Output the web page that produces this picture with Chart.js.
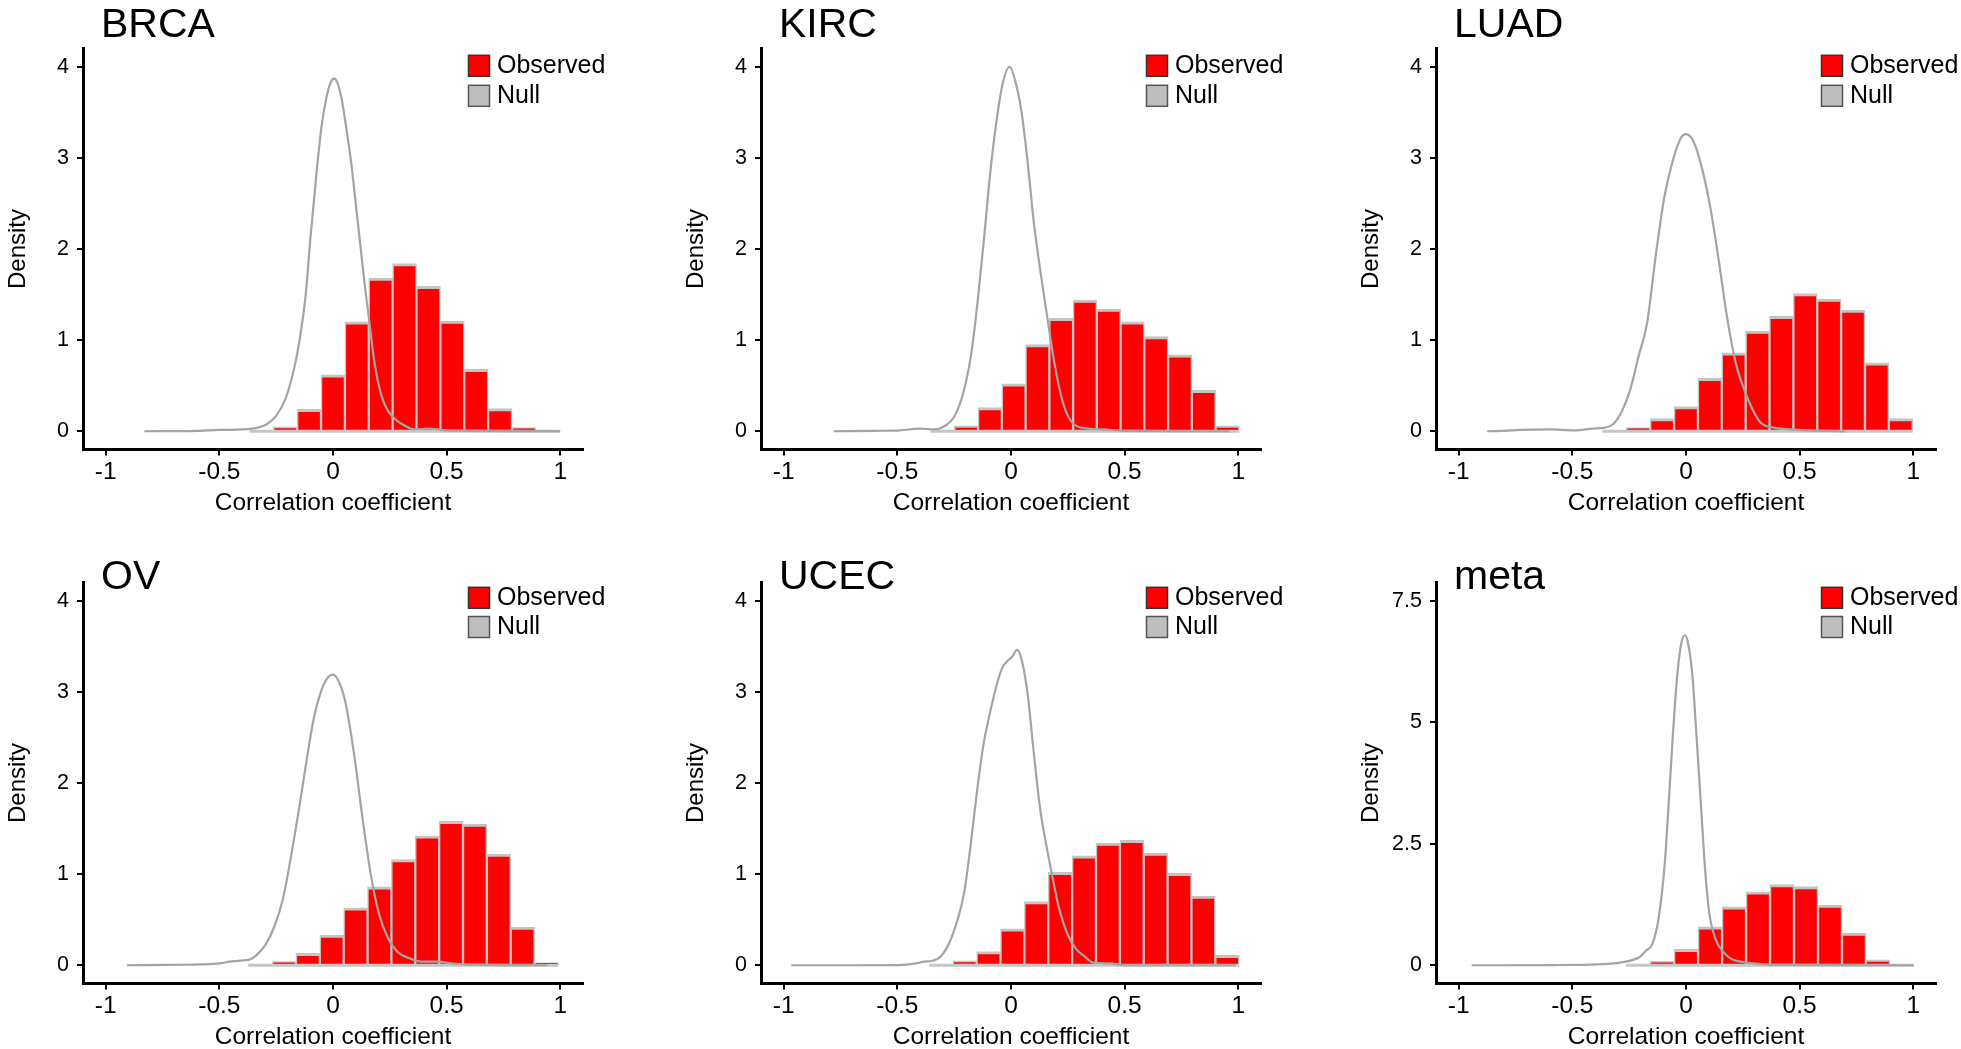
<!DOCTYPE html>
<html>
<head>
<meta charset="utf-8">
<script src="https://cdn.jsdelivr.net/npm/chart.js@4.4.0/dist/chart.umd.min.js"></script>
<style>
html, body { margin: 0; padding: 0; background: #ffffff; overflow: hidden; width: 1961px; height: 1049px; }
canvas { position: absolute; }
</style>
</head>
<body>
<canvas id="p0" width="620" height="520"></canvas>
<canvas id="p1" width="620" height="520"></canvas>
<canvas id="p2" width="620" height="520"></canvas>
<canvas id="p3" width="620" height="520"></canvas>
<canvas id="p4" width="620" height="520"></canvas>
<canvas id="p5" width="620" height="520"></canvas>
<script>
// ---------------- DATA ----------------
const panelNames = ['BRCA', 'KIRC', 'LUAD', 'OV', 'UCEC', 'meta'];
const legendLabels = ['Observed', 'Null'];
const xAxisTitle = 'Correlation coefficient';
const yAxisTitle = 'Density';

const xTickValues = [-1, -0.5, 0, 0.5, 1];
const xTickLabels = ['-1', '-0.5', '0', '0.5', '1'];
const yTickValues4 = [0, 1, 2, 3, 4];
const yTickLabels4 = ['0', '1', '2', '3', '4'];
const yTickValuesMeta = [0, 2.5, 5, 7.5];
const yTickLabelsMeta = ['0', '2.5', '5', '7.5'];

// BRCA
const brcaBinCenters = [-0.315, -0.21, -0.105, 0, 0.105, 0.21, 0.315, 0.42, 0.525, 0.63, 0.735, 0.84, 0.945];
const brcaObserved   = [0, 0.05, 0.24, 0.62, 1.20, 1.68, 1.84, 1.59, 1.21, 0.68, 0.25, 0.04, 0];
const brcaNullX = [-0.83, -0.6, -0.5, -0.4, -0.33, -0.29, -0.25, -0.21, -0.17, -0.144, -0.12, -0.1, -0.07, -0.05, -0.03, -0.01, 0.005, 0.02, 0.04, 0.06, 0.08, 0.1, 0.12, 0.14, 0.16, 0.18, 0.2, 0.23, 0.27, 0.31, 0.36, 0.42, 0.5, 0.6, 1.0];
const brcaNullY = [0, 0.005, 0.015, 0.02, 0.04, 0.08, 0.17, 0.35, 0.7, 1.05, 1.5, 2.1, 2.9, 3.35, 3.65, 3.83, 3.87, 3.82, 3.62, 3.3, 2.95, 2.5, 2.05, 1.6, 1.2, 0.8, 0.52, 0.28, 0.14, 0.07, 0.02, 0.03, 0.01, 0.005, 0];

// KIRC
const kircBinCenters = [-0.3015, -0.197, -0.0925, 0.012, 0.1165, 0.221, 0.3255, 0.43, 0.5345, 0.639, 0.7435, 0.848, 0.9525];
const kircObserved   = [0, 0.06, 0.26, 0.52, 0.95, 1.24, 1.44, 1.34, 1.20, 1.04, 0.84, 0.45, 0.06];
const kircNullX = [-0.78, -0.6, -0.49, -0.4, -0.34, -0.29, -0.25, -0.21, -0.175, -0.147, -0.12, -0.092, -0.064, -0.037, -0.006, 0.018, 0.046, 0.073, 0.1, 0.128, 0.156, 0.193, 0.229, 0.275, 0.34, 0.41, 0.5, 0.96];
const kircNullY = [0, 0.005, 0.01, 0.03, 0.02, 0.06, 0.16, 0.42, 0.85, 1.42, 2.08, 2.82, 3.40, 3.81, 4.0, 3.85, 3.51, 2.96, 2.30, 1.78, 1.31, 0.72, 0.31, 0.08, 0.03, 0.02, 0.005, 0];

// LUAD
const luadBinCenters = [-0.315, -0.21, -0.105, 0, 0.105, 0.21, 0.315, 0.42, 0.525, 0.63, 0.735, 0.84, 0.945];
const luadObserved   = [0, 0.04, 0.14, 0.27, 0.58, 0.86, 1.10, 1.26, 1.51, 1.45, 1.33, 0.75, 0.14];
const luadNullX = [-0.875, -0.6, -0.49, -0.41, -0.356, -0.32, -0.282, -0.245, -0.208, -0.171, -0.133, -0.096, -0.059, -0.022, 0, 0.033, 0.07, 0.108, 0.145, 0.182, 0.219, 0.256, 0.293, 0.33, 0.386, 0.46, 0.534, 0.7];
const luadNullY = [0, 0.02, 0.01, 0.03, 0.04, 0.08, 0.22, 0.46, 0.83, 1.19, 1.93, 2.56, 2.96, 3.22, 3.26, 3.18, 2.89, 2.44, 1.86, 1.23, 0.75, 0.46, 0.24, 0.09, 0.04, 0.02, 0.01, 0];

// OV
const ovBinCenters = [-0.3205, -0.2155, -0.1105, -0.0055, 0.0995, 0.2045, 0.3095, 0.4145, 0.5195, 0.6245, 0.7295, 0.8345, 0.9395];
const ovObserved   = [0, 0.04, 0.13, 0.33, 0.63, 0.86, 1.16, 1.42, 1.58, 1.55, 1.22, 0.42, 0.03];
const ovNullX = [-0.906, -0.72, -0.573, -0.5, -0.453, -0.407, -0.36, -0.333, -0.296, -0.259, -0.222, -0.185, -0.148, -0.111, -0.083, -0.055, -0.028, 0, 0.028, 0.055, 0.092, 0.129, 0.166, 0.203, 0.24, 0.287, 0.333, 0.388, 0.462, 0.518, 0.573, 0.943];
const ovNullY = [0, 0.005, 0.01, 0.02, 0.04, 0.05, 0.07, 0.12, 0.23, 0.42, 0.71, 1.19, 1.74, 2.33, 2.73, 2.99, 3.14, 3.19, 3.10, 2.88, 2.33, 1.63, 1.00, 0.56, 0.31, 0.14, 0.08, 0.04, 0.04, 0.02, 0.01, 0];

// UCEC
const ucecBinCenters = [-0.3085, -0.2035, -0.0985, 0.0065, 0.1115, 0.2165, 0.3215, 0.4265, 0.5315, 0.6365, 0.7415, 0.8465, 0.9515];
const ucecObserved   = [0, 0.05, 0.15, 0.40, 0.70, 1.02, 1.20, 1.34, 1.37, 1.23, 1.01, 0.76, 0.11];
const ucecNullX = [-0.967, -0.7, -0.494, -0.42, -0.382, -0.345, -0.308, -0.271, -0.234, -0.206, -0.178, -0.15, -0.122, -0.095, -0.067, -0.039, -0.011, 0.007, 0.026, 0.045, 0.072, 0.1, 0.128, 0.156, 0.184, 0.212, 0.249, 0.286, 0.323, 0.36, 0.434, 0.508, 0.99];
const ucecNullY = [0, 0, 0.002, 0.02, 0.04, 0.05, 0.10, 0.25, 0.51, 0.80, 1.31, 1.90, 2.41, 2.74, 3.04, 3.26, 3.35, 3.39, 3.46, 3.37, 3.00, 2.34, 1.72, 1.31, 0.95, 0.62, 0.34, 0.18, 0.10, 0.03, 0.02, 0, 0];

// meta
const metaBinCenters = [-0.2105, -0.105, 0.0005, 0.106, 0.2115, 0.317, 0.4225, 0.528, 0.6335, 0.739, 0.8445, 0.95];
const metaObserved   = [0, 0.08, 0.33, 0.79, 1.20, 1.51, 1.66, 1.62, 1.24, 0.66, 0.11, 0];
const metaNullX = [-0.943, -0.576, -0.39, -0.316, -0.26, -0.204, -0.176, -0.149, -0.121, -0.093, -0.074, -0.056, -0.037, -0.019, -0.004, 0.009, 0.028, 0.046, 0.065, 0.084, 0.102, 0.13, 0.167, 0.204, 0.26, 0.316, 0.39, 1.0];
const metaNullY = [0, 0.005, 0.02, 0.04, 0.08, 0.17, 0.30, 0.43, 0.95, 2.12, 3.50, 4.87, 6.04, 6.66, 6.79, 6.63, 5.97, 4.73, 3.36, 1.98, 1.09, 0.54, 0.26, 0.12, 0.06, 0.03, 0.01, 0];

// ---------------- LAYOUT / STYLE ----------------
const FONT = '"Liberation Sans", Arial, Helvetica, sans-serif';
Chart.defaults.font.family = FONT;
Chart.defaults.color = '#000000';

const PANEL_W = 500, PANEL_H = 401;
const Y_AXIS_W = 80, X_AXIS_H = 70;
const CANVAS_W = 620, CANVAS_H = 520;
const colLeft = [83, 761, 1436];
const rowTop = [48.5, 582];
const titleBaseline = [36.7, 54.8];
const legendRowsY = [[65.8, 95.8], [63.8, 93.0]];

const panels = [
  { centers: brcaBinCenters, observed: brcaObserved, nx: brcaNullX, ny: brcaNullY, yt: yTickValues4, yl: yTickLabels4, ymin: -0.2, ymax: 4.2 },
  { centers: kircBinCenters, observed: kircObserved, nx: kircNullX, ny: kircNullY, yt: yTickValues4, yl: yTickLabels4, ymin: -0.2, ymax: 4.2 },
  { centers: luadBinCenters, observed: luadObserved, nx: luadNullX, ny: luadNullY, yt: yTickValues4, yl: yTickLabels4, ymin: -0.2, ymax: 4.2 },
  { centers: ovBinCenters, observed: ovObserved, nx: ovNullX, ny: ovNullY, yt: yTickValues4, yl: yTickLabels4, ymin: -0.2, ymax: 4.2 },
  { centers: ucecBinCenters, observed: ucecObserved, nx: ucecNullX, ny: ucecNullY, yt: yTickValues4, yl: yTickLabels4, ymin: -0.2, ymax: 4.2 },
  { centers: metaBinCenters, observed: metaObserved, nx: metaNullX, ny: metaNullY, yt: yTickValuesMeta, yl: yTickLabelsMeta, ymin: -0.375, ymax: 7.875 }
];

const legendStyles = [
  { fill: '#FF0000', stroke: '#333333' },
  { fill: '#BEBEBE', stroke: '#555555' }
];

const panelDecor = {
  id: 'panelDecor',
  afterDraw(chart, args, opts) {
    const { ctx, chartArea } = chart;
    ctx.save();
    ctx.fillStyle = '#000';
    ctx.textAlign = 'left';
    ctx.textBaseline = 'alphabetic';
    ctx.font = '41px ' + FONT;
    ctx.fillText(opts.title, chartArea.left + 18, opts.titleY);
    ctx.font = '25px ' + FONT;
    ctx.textBaseline = 'middle';
    legendLabels.forEach((lab, i) => {
      const cy = opts.legendY[i];
      const bx = chartArea.left + 385.5, by = cy - 10.5;
      ctx.fillStyle = legendStyles[i].fill;
      ctx.fillRect(bx, by, 21, 21);
      ctx.strokeStyle = legendStyles[i].stroke;
      ctx.lineWidth = 1.5;
      ctx.strokeRect(bx, by, 21, 21);
      ctx.fillStyle = '#000';
      ctx.fillText(lab, bx + 28.5, cy + 0.5);
    });
    ctx.restore();
  }
};

panels.forEach((p, idx) => {
  const col = idx % 3, row = Math.floor(idx / 3);
  const cv = document.getElementById('p' + idx);
  cv.style.left = (colLeft[col] - Y_AXIS_W) + 'px';
  cv.style.top = (rowTop[row] - 48.5) + 'px';

  const w = p.centers[1] - p.centers[0];
  const histStart = p.centers[0] - w / 2;
  const histEnd = p.centers[p.centers.length - 1] + w / 2;

  const barData = p.centers.map((c, i) => ({ x: c, y: p.observed[i] }));
  const nullData = p.nx.map((x, i) => ({ x: x, y: p.ny[i] }));

  new Chart(cv, {
    type: 'bar',
    data: {
      datasets: [
        {
          type: 'line', label: legendLabels[1], data: nullData, order: 0,
          borderColor: '#A4A4A4', borderWidth: 2.2, pointRadius: 0, fill: false,
          cubicInterpolationMode: 'monotone'
        },
        {
          type: 'line', label: 'baseline', data: [{ x: histStart, y: 0 }, { x: histEnd, y: 0 }], order: 1,
          borderColor: '#C6C6C6', borderWidth: 3, pointRadius: 0, fill: false
        },
        {
          type: 'bar', label: legendLabels[0], data: barData, order: 2,
          backgroundColor: '#FF0000', borderColor: '#C4C4C4',
          borderWidth: { top: 3, left: 1.5, right: 1.5, bottom: 0 },
          borderSkipped: false, barPercentage: 1, categoryPercentage: 1
        }
      ]
    },
    options: {
      responsive: false, animation: false, events: [],
      layout: { padding: { top: 48.5, left: 0, right: CANVAS_W - Y_AXIS_W - PANEL_W, bottom: CANVAS_H - 48.5 - PANEL_H - X_AXIS_H } },
      plugins: {
        legend: { display: false }, tooltip: { enabled: false },
        panelDecor: { title: panelNames[idx], titleY: titleBaseline[row], legendY: legendRowsY[row] }
      },
      scales: {
        x: {
          type: 'linear', min: -1.1, max: 1.1, offset: false,
          afterBuildTicks: (s) => { s.ticks = xTickValues.map(v => ({ value: v })); },
          afterFit: (s) => { s.height = X_AXIS_H; },
          ticks: { callback: (v, i) => xTickLabels[i], font: { size: 24.5, lineHeight: 1.2 }, color: '#000', padding: 2, maxRotation: 0, autoSkip: false },
          grid: { display: true, drawOnChartArea: false, drawTicks: true, tickLength: 6, color: '#000', lineWidth: 2, offset: false },
          border: { display: true, color: '#000', width: 3 },
          title: { display: true, text: xAxisTitle, font: { size: 24.5, lineHeight: 1.2 }, color: '#000', padding: { top: 0, bottom: 1.5 } }
        },
        y: {
          type: 'linear', min: p.ymin, max: p.ymax,
          afterBuildTicks: (s) => { s.ticks = p.yt.map(v => ({ value: v })); },
          afterFit: (s) => { s.width = Y_AXIS_W; },
          ticks: { callback: (v, i) => p.yl[i], font: { size: 21.5 }, color: '#000', padding: 8, autoSkip: false },
          grid: { display: true, drawOnChartArea: false, drawTicks: true, tickLength: 6, color: '#000', lineWidth: 2 },
          border: { display: true, color: '#000', width: 3 },
          title: { display: true, text: yAxisTitle, font: { size: 24, lineHeight: 1.2 }, color: '#000', padding: { top: 0.7, bottom: 0 } }
        }
      }
    },
    plugins: [panelDecor]
  });
});
</script>
</body>
</html>
